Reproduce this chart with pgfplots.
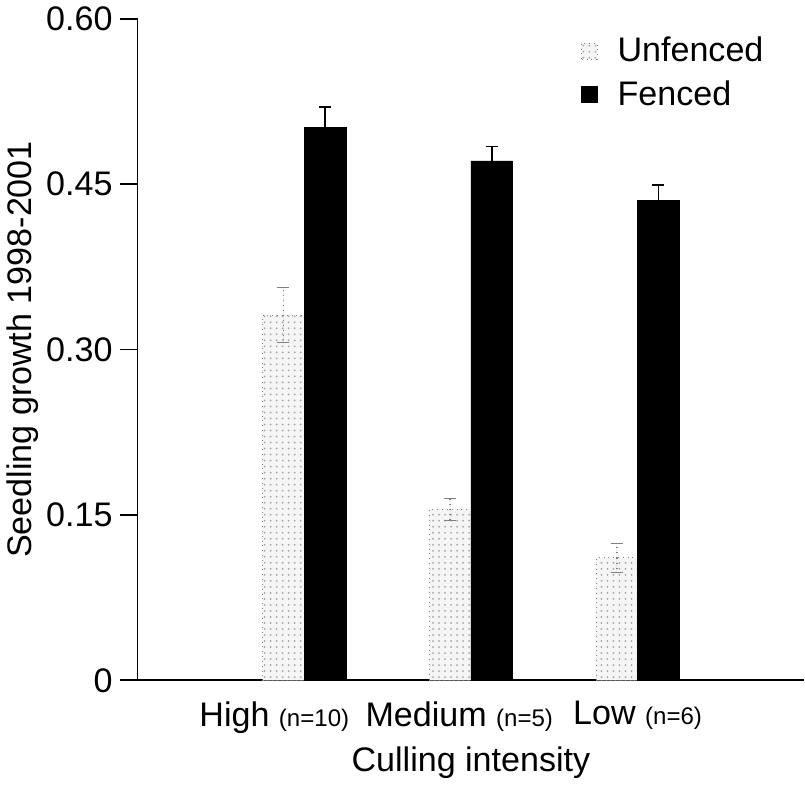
\documentclass[border=0pt]{standalone}
\usepackage{fontspec}
\setmainfont{Liberation Sans}
\usepackage{pgfplots}
\pgfplotsset{compat=1.18}
\usetikzlibrary{patterns}
\begin{document}
\begin{tikzpicture}
\begin{axis}[
  scale only axis, width=332.5pt, height=330pt,
  xmin=-1, xmax=3, ymin=0, ymax=0.6,
  axis x line=bottom, axis y line=left, axis line style={-, thick},
  ytick={0,0.15,0.30,0.45,0.60}, yticklabels={0,0.15,0.30,0.45,0.60},
  xtick={-0.18,0.93,2.0},
  xticklabels={High {\fontsize{12}{14}\selectfont(n=10)}, Medium {\fontsize{12}{14}\selectfont(n=5)}, Low {\fontsize{12}{14}\selectfont(n=6)}},
  x tick style={draw=none}, y tick style={thick, black}, tick align=outside, major tick length=9pt,
  tick label style={font=\fontsize{17}{20}\selectfont},
  xticklabel style={yshift=2pt},
  label style={font=\fontsize{17}{20}\selectfont},
  /pgf/number format/assume math mode=true,
  ylabel={Seedling growth 1998-2001}, xlabel={Culling intensity},
  ylabel style={yshift=-3pt},
  ybar, bar width=0.25, area legend,
  legend image code/.code={\draw[#1] (0pt,-4pt) rectangle (8pt,4pt);},
  legend style={at={(0.655,0.985)}, anchor=north west, draw=none, font=\fontsize{17}{20}\selectfont, row sep=4pt,
    nodes={inner xsep=10pt}},
  legend cell align=left,
]
\addplot[bar shift=-0.125, fill=gray!8, draw=gray, dotted, postaction={pattern=dots, pattern color=gray!70},
  error bars/.cd, y dir=both, y explicit, error bar style={gray, dotted, thick},
  error mark options={gray, rotate=90, mark size=3pt, solid}]
  coordinates {(0,0.331) +- (0,0.025) (1,0.155) +- (0,0.010) (2,0.111) +- (0,0.013)};
\addlegendentry{Unfenced}
\addplot[bar shift=0.125, fill=black, draw=black,
  error bars/.cd, y dir=both, y explicit, error bar style={black, thick},
  error mark options={black, rotate=90, mark size=3pt, thick}]
  coordinates {(0,0.501) +- (0,0.019) (1,0.471) +- (0,0.013) (2,0.435) +- (0,0.014)};
\addlegendentry{Fenced}
\end{axis}
\end{tikzpicture}
\end{document}
